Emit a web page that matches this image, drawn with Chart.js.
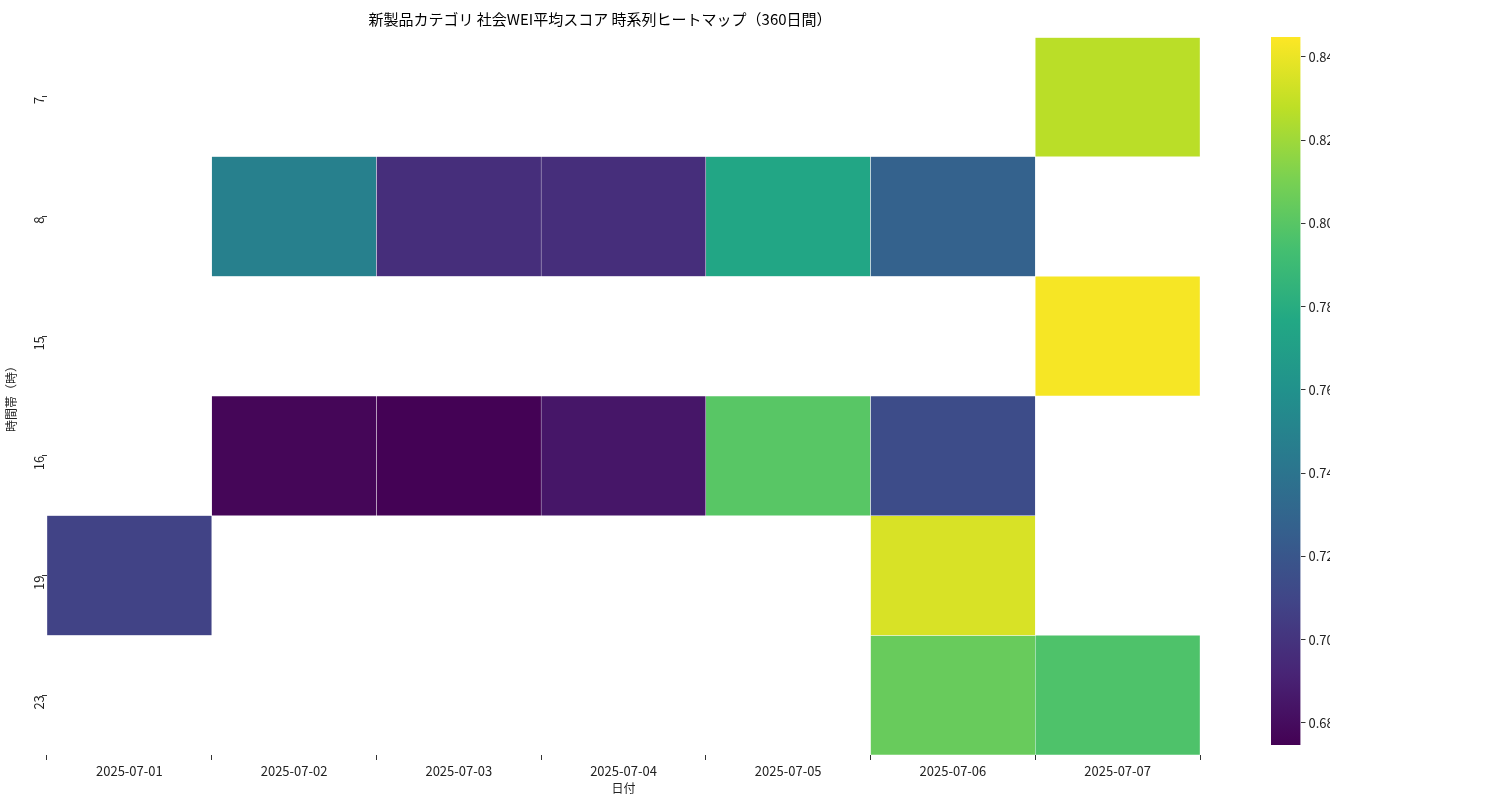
<!DOCTYPE html>
<html><head><meta charset="utf-8">
<script src="https://cdn.jsdelivr.net/npm/chart.js@4/dist/chart.umd.min.js"></script>
<style>body{margin:0;background:#fff;width:1500px;height:800px;position:relative;font-family:"Noto Sans CJK JP",sans-serif}
#main{position:absolute;left:0;top:0}#cb{position:absolute;left:1230px;top:0}</style></head>
<body><canvas id="main" width="1230" height="800"></canvas><canvas id="cb" width="200" height="800"></canvas>
<script>
const dates=["2025-07-01","2025-07-02","2025-07-03","2025-07-04","2025-07-05","2025-07-06","2025-07-07"];
const hours=["7","8","15","16","19","23"];
const row7 =[null,null,null,null,null,null,0.827];
const row8 =[null,0.748,0.697,0.697,0.775,0.728,null];
const row15=[null,null,null,null,null,null,0.843];
const row16=[null,0.677,0.675,0.685,0.800,0.714,null];
const row19=[0.708,null,null,null,null,0.835,null];
const row23=[null,null,null,null,null,0.805,0.797];
const rows=[row7,row8,row15,row16,row19,row23];
const vmin=0.6747,vmax=0.8448;
const cbTicks=[0.68,0.70,0.72,0.74,0.76,0.78,0.80,0.82,0.84];
const V=["#440154","#482475","#414487","#355f8d","#2a788e","#21918c","#22a884","#44bf70","#7ad151","#bddf26","#fde725"];
function hx(h){return [1,3,5].map(i=>parseInt(h.substr(i,2),16));}
function viridis(t){t=Math.max(0,Math.min(1,t));const p=t*10,i=Math.min(9,Math.floor(p)),f=p-i;const a=hx(V[i]),b=hx(V[i+1]);return `rgb(${a.map((v,k)=>Math.round(v+(b[k]-v)*f)).join(',')})`;}
const F="'Noto Sans CJK JP', sans-serif";
Chart.defaults.font.family=F;Chart.defaults.color="#222";
const datasets=rows.map((r,ri)=>({data:r.map(v=>v==null?null:[ri,ri+1]),backgroundColor:r.map(v=>v==null?'rgba(0,0,0,0)':viridis((v-vmin)/(vmax-vmin))),borderColor:'#fff',borderWidth:0.5,borderSkipped:false,barPercentage:1,categoryPercentage:1,grouped:false}));
new Chart(document.getElementById('main'),{type:'bar',data:{labels:dates,datasets},
options:{responsive:false,animation:false,layout:{padding:{top:0,right:30,left:0,bottom:0}},
plugins:{legend:{display:false},tooltip:{enabled:false},title:{display:true,text:"新製品カテゴリ 社会WEI平均スコア 時系列ヒートマップ（360日間）",font:{size:15,weight:'normal'},color:'#000',padding:{top:10,bottom:9}}},
scales:{x:{grid:{drawOnChartArea:false,tickLength:5,color:'#333'},border:{display:false},ticks:{font:{size:13},color:'#222'},title:{display:true,text:"日付",font:{size:12},padding:{top:0}}},
y:{type:'linear',min:0,max:6,reverse:true,border:{display:false},
grid:{drawOnChartArea:false,tickLength:5,color:c=>(c.tick&&Math.abs(c.tick.value%1-0.5)<1e-6)?'#333':'rgba(0,0,0,0)'},
ticks:{stepSize:0.5,autoSkip:false,minRotation:90,maxRotation:90,font:{size:13},color:'#222',callback:v=>Math.abs(v%1-0.5)<1e-6?hours[Math.floor(v)]:''},
title:{display:true,text:"時間帯（時）",font:{size:12},padding:{bottom:2}}}}}});
new Chart(document.getElementById('cb'),{type:'bar',data:{labels:[''],datasets:[{data:[[vmin,vmax]],barPercentage:1,categoryPercentage:1,borderSkipped:false,
backgroundColor:c=>{const ca=c.chart.chartArea;if(!ca)return '#888';const g=c.chart.ctx.createLinearGradient(0,ca.bottom,0,ca.top);V.forEach((col,i)=>g.addColorStop(i/10,col));return g;}}]},
options:{responsive:false,animation:false,layout:{padding:{left:41,right:100,top:37,bottom:55}},plugins:{legend:{display:false},tooltip:{enabled:false}},
scales:{x:{display:false},y:{position:'right',min:vmin,max:vmax,afterBuildTicks:ax=>{ax.ticks=cbTicks.map(v=>({value:v}));},
grid:{drawOnChartArea:false,tickLength:5,color:'#333'},border:{display:false},ticks:{font:{size:13},color:'#222',callback:v=>v.toFixed(2)}}}}});
</script></body></html>
